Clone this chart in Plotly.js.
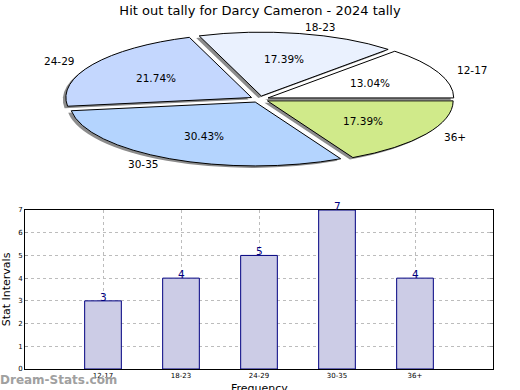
<!DOCTYPE html>
<html><head><meta charset="utf-8">
<script src="https://cdn.plot.ly/plotly-3.0.1.min.js"></script>
<style>body{margin:0;background:#fff;} #chart{width:520px;height:390px;}</style>
</head><body><div id="chart"></div>
<script>
// ---- data ----
const categories = ['12-17', '18-23', '24-29', '30-35', '36+'];
const counts = [3, 4, 5, 7, 4];
const sliceColors = ['#ffffff', '#eaf1fe', '#c4d7fe', '#b4d4fe', '#d0ea8a'];
const yTicks = [0, 1, 2, 3, 4, 5, 6, 7];
const titleText = 'Hit out tally for Darcy Cameron - 2024 tally';
const xTitle = 'Frequency';
const yTitle = 'Stat Intervals';
const watermark = 'Dream-Stats.com';

// ---- geometry / style ----
const W = 520, H = 390;
const FONT = 'DejaVu Sans, sans-serif';
const pull = 0.05;
const pieCx = 259.5;         // px
const pieCyTarget = 99.2;    // px, centre of flattened pie
const squash = 0.344;        // vertical flattening
const pieHalf = 195;         // half-size of pie box in px
const r = pieHalf / (1 + pull);
const ry = r * squash;
const pieCyRaw = H - pieHalf;
const xDomain = [25 / W, 493 / W];

const total = counts.reduce((a, b) => a + b, 0);
const annotations = [];
let cum = 0;
counts.forEach((v, i) => {
  const mid = (cum + v / 2) / total;
  cum += v;
  const th = 2 * Math.PI * mid;
  const c = Math.cos(th), s = Math.sin(th);
  const lx = pieCx + (pull + 1.1) * r * c;
  const ly = pieCyTarget - (pull + 1.1) * ry * s;
  annotations.push({
    x: lx / W, y: 1 - ly / H, xref: 'paper', yref: 'paper',
    text: categories[i], showarrow: false,
    xanchor: c > 0 ? 'left' : 'right', yanchor: 'middle',
    font: {family: FONT, size: 10.5, color: '#000'}
  });
  const px = pieCx + (pull + 0.6) * r * c;
  const py = pieCyTarget - (pull + 0.6) * ry * s;
  annotations.push({
    x: px / W, y: 1 - py / H, xref: 'paper', yref: 'paper',
    text: (v / total * 100).toFixed(2) + '%', showarrow: false,
    xanchor: 'center', yanchor: 'middle',
    font: {family: FONT, size: 10.5, color: '#000'}
  });
});
// bar value labels
categories.forEach((c, i) => {
  annotations.push({
    x: c, y: counts[i], xref: 'x', yref: 'y', text: String(counts[i]),
    showarrow: false, xanchor: 'center', yanchor: 'bottom', yshift: -4,
    font: {family: FONT, size: 10.5, color: '#000080'}
  });
});
annotations.push({
  x: (xDomain[0] + xDomain[1]) / 2, y: 1 - 388 / H, xref: 'paper', yref: 'paper',
  text: xTitle, showarrow: false, xanchor: 'center', yanchor: 'middle',
  font: {family: FONT, size: 11, color: '#000'}
});
annotations.push({
  x: 0, y: 1 - 380 / H, xref: 'paper', yref: 'paper', text: watermark,
  showarrow: false, xanchor: 'left', yanchor: 'middle', xshift: -2,
  font: {family: FONT, size: 12, color: '#a0a0a0', weight: 'bold'}
});

const pieDomainX = [(pieCx - pieHalf) / W, (pieCx + pieHalf) / W];
const pieBase = {
  type: 'pie', labels: categories, values: counts, sort: false,
  direction: 'counterclockwise', rotation: 90 - 360 * counts[0] / total, pull: pull,
  textinfo: 'none', hoverinfo: 'none', showlegend: false,
  domain: {x: pieDomainX, y: [0, 1]}
};
const shadow = Object.assign({}, pieBase, {
  marker: {colors: categories.map(() => '#8c8c8c'), line: {width: 0}}
});
const pie = Object.assign({}, pieBase, {
  marker: {colors: sliceColors, line: {color: '#000', width: 1}}
});

const bars = {
  type: 'bar', x: categories, y: counts, width: 0.47,
  marker: {color: '#ccccE6', line: {color: '#000080', width: 1}},
  hoverinfo: 'none', showlegend: false
};

const layout = {
  width: W, height: H, margin: {l: 0, r: 0, t: 0, b: 0},
  paper_bgcolor: '#fff', plot_bgcolor: '#fff',
  font: {family: FONT, color: '#000'},
  title: {text: titleText, x: 0.5, xanchor: 'center', y: 1 - 10 / H, yanchor: 'middle',
          font: {family: FONT, size: 13, color: '#000'}},
  xaxis: {
    domain: xDomain, type: 'category', range: [-1, 5],
    showline: true, mirror: true, linecolor: '#000', linewidth: 1,
    ticks: '', tickfont: {family: FONT, size: 7, color: '#000'},
    showgrid: true, gridcolor: '#bcbcbc', griddash: 'dot', gridwidth: 1,
    zeroline: false, fixedrange: true
  },
  yaxis: {
    domain: [1 - 369 / H, 1 - 210 / H], range: [0, 7], tickvals: yTicks,
    showline: true, mirror: 'ticks', linecolor: '#000', linewidth: 1,
    ticks: 'inside', ticklen: 3, tickcolor: '#999',
    tickfont: {family: FONT, size: 7, color: '#000'},
    showgrid: true, gridcolor: '#bcbcbc', griddash: 'dot', gridwidth: 1,
    zeroline: false, fixedrange: true,
    title: {text: yTitle, font: {family: FONT, size: 11, color: '#000'}, standoff: 6}
  },
  annotations: annotations
};

Plotly.newPlot('chart', [bars, shadow, pie], layout, {staticPlot: true, displayModeBar: false}).then(gd => {
  const groups = gd.querySelectorAll('.pielayer g.trace');
  groups.forEach((g, k) => {
    const dx = k === 0 ? -3 : 0;
    const dy = k === 0 ? 2 : 0;
    g.setAttribute('transform',
      `translate(${dx}, ${pieCyTarget + dy}) scale(1, ${squash}) translate(0, ${-pieCyRaw})`);
    g.querySelectorAll('path').forEach(p => p.style.vectorEffect = 'non-scaling-stroke');
  });
});
</script>
</body></html>
